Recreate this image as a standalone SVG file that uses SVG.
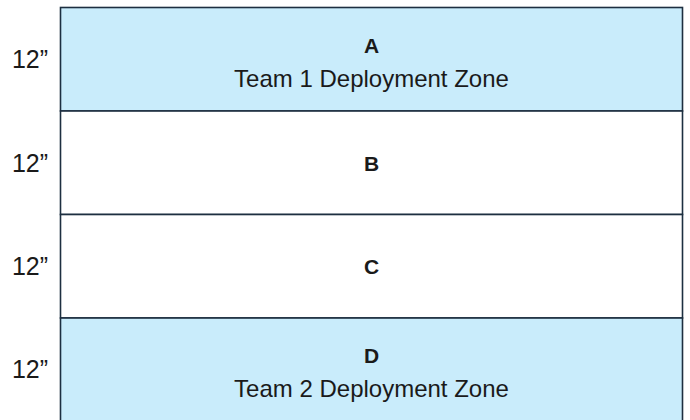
<svg xmlns="http://www.w3.org/2000/svg" width="690" height="420" viewBox="0 0 690 420">
<style>
.zone{stroke:#1d2f40;stroke-width:1.6}
.blue{fill:#c9ecfb}
.white{fill:#ffffff}
.t{font-family:"Liberation Sans",Arial,sans-serif;fill:#1a1a1a;text-anchor:middle}
.lbl{font-size:25px}
.hd{font-size:21px;font-weight:bold}
.sub{font-size:24px}
</style>
<rect width="690" height="420" fill="#ffffff"/>
<g id="zone-a">
<rect class="zone blue" x="60.5" y="7.5" width="622" height="103.5"/>
<text class="t hd" x="371.5" y="53">A</text>
<text class="t sub" x="371.5" y="87">Team 1 Deployment Zone</text>
</g>
<g id="zone-b">
<rect class="zone white" x="60.5" y="111" width="622" height="103.5"/>
<text class="t hd" x="371.5" y="171">B</text>
</g>
<g id="zone-c">
<rect class="zone white" x="60.5" y="214.5" width="622" height="103.5"/>
<text class="t hd" x="371.5" y="274">C</text>
</g>
<g id="zone-d">
<rect class="zone blue" x="60.5" y="318" width="622" height="103.5"/>
<text class="t hd" x="371.5" y="363">D</text>
<text class="t sub" x="371.5" y="397">Team 2 Deployment Zone</text>
</g>
<g id="labels">
<text class="t lbl" x="30" y="68">12”</text>
<text class="t lbl" x="30" y="172">12”</text>
<text class="t lbl" x="30" y="275">12”</text>
<text class="t lbl" x="30" y="378">12”</text>
</g>
</svg>
